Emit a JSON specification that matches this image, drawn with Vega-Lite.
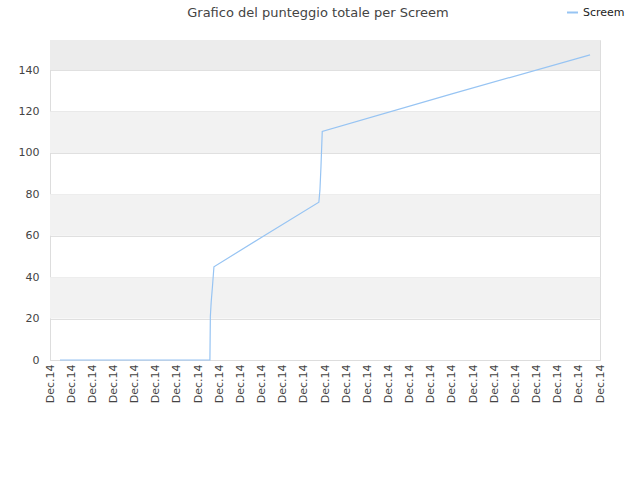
{
  "$schema": "https://vega.github.io/schema/vega-lite/v6.json",
  "width": 550,
  "height": 320,
  "autosize": "none",
  "padding": {"left": 50, "top": 40, "right": 40, "bottom": 120},
  "background": "white",
  "title": {
    "text": "Grafico del punteggio totale per Screem",
    "font": "DejaVu Sans",
    "fontSize": 13,
    "fontWeight": "normal",
    "color": "#444444",
    "anchor": "middle",
    "dx": -7,
    "offset": 0,
    "dy": 14
  },
  "config": {
    "view": {"stroke": "#dddddd"},
    "font": "DejaVu Sans"
  },
  "datasets": {
    "bands": [
      {"lo": 20, "hi": 40},
      {"lo": 60, "hi": 80},
      {"lo": 100, "hi": 120}
    ],
    "topband": [
      {"lo": 140, "hi": 154.5}
    ],
    "scores": [
      {"t": 0.47, "score": 0, "player": "Screem"},
      {"t": 3.0, "score": 0, "player": "Screem"},
      {"t": 7.56, "score": 0, "player": "Screem"},
      {"t": 7.58, "score": 21, "player": "Screem"},
      {"t": 7.62, "score": 28, "player": "Screem"},
      {"t": 7.68, "score": 35.5, "player": "Screem"},
      {"t": 7.75, "score": 45, "player": "Screem"},
      {"t": 10.2, "score": 60.5, "player": "Screem"},
      {"t": 12.71, "score": 76.2, "player": "Screem"},
      {"t": 12.76, "score": 82, "player": "Screem"},
      {"t": 12.81, "score": 93.4, "player": "Screem"},
      {"t": 12.87, "score": 110.3, "player": "Screem"},
      {"t": 19.0, "score": 128.5, "player": "Screem"},
      {"t": 25.53, "score": 147.3, "player": "Screem"}
    ]
  },
  "layer": [
    {
      "data": {"name": "bands"},
      "mark": {"type": "rect", "fill": "#f2f2f2"},
      "encoding": {
        "y": {"field": "lo", "type": "quantitative", "scale": {"domain": [0, 154.5]}},
        "y2": {"field": "hi"}
      }
    },
    {
      "data": {"name": "topband"},
      "mark": {"type": "rect", "fill": "#ececec"},
      "encoding": {
        "y": {"field": "lo", "type": "quantitative"},
        "y2": {"field": "hi"}
      }
    },
    {
      "data": {"name": "scores"},
      "mark": {"type": "line", "strokeWidth": 1.2, "interpolate": "linear"},
      "encoding": {
        "x": {
          "field": "t",
          "type": "quantitative",
          "scale": {"domain": [0, 26], "nice": false, "zero": false},
          "axis": {
            "title": null,
            "values": [0,1,2,3,4,5,6,7,8,9,10,11,12,13,14,15,16,17,18,19,20,21,22,23,24,25,26],
            "labelExpr": "'Dec.14'",
            "labelAngle": -90,
            "labelAlign": "right",
            "labelBaseline": "middle",
            "labelFontSize": 11,
            "labelColor": "#444444",
            "labelPadding": 4,
            "labelOverlap": false,
            "labelBound": false,
            "labelFlush": false,
            "ticks": false,
            "grid": false,
            "domainColor": "#dddddd"
          }
        },
        "y": {
          "field": "score",
          "type": "quantitative",
          "scale": {"domain": [0, 154.5], "nice": false},
          "axis": {
            "title": null,
            "values": [0, 20, 40, 60, 80, 100, 120, 140],
            "labelFontSize": 11,
            "labelColor": "#444444",
            "labelPadding": 11,
            "ticks": false,
            "gridColor": "#e0e0e0",
            "domainColor": "#dddddd"
          }
        },
        "color": {
          "field": "player",
          "type": "nominal",
          "scale": {"range": ["#97c4f3"]},
          "legend": {
            "title": null,
            "orient": "none",
            "legendX": 516,
            "legendY": -34,
            "symbolType": "stroke",
            "symbolSize": 120,
            "symbolStrokeWidth": 2,
            "labelFontSize": 11,
            "labelColor": "#222222",
            "labelFont": "DejaVu Sans"
          }
        }
      }
    }
  ]
}
